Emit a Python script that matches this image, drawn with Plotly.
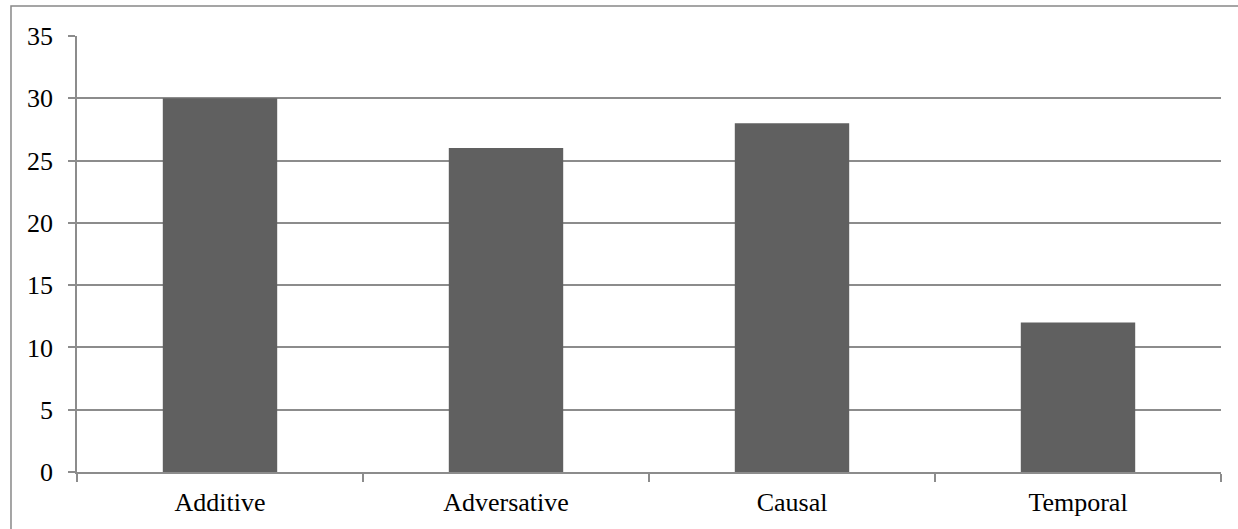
import plotly.graph_objects as go

categories = ["Additive", "Adversative", "Causal", "Temporal"]
values = [30, 26, 28, 12]
y_ticks = [0, 5, 10, 15, 20, 25, 30, 35]

GRID = "#8c8c8c"
FONT = dict(family="Liberation Serif, Times New Roman, serif", size=26, color="#000000")

fig = go.Figure(
    go.Bar(
        x=categories,
        y=values,
        marker=dict(color="#606060", line=dict(width=0)),
        hoverinfo="x+y",
    )
)

fig.update_layout(
    width=1238,
    height=529,
    margin=dict(l=77, r=17, t=36, b=57),
    paper_bgcolor="#ffffff",
    plot_bgcolor="#ffffff",
    bargap=0.6,
    showlegend=False,
    font=FONT,
    shapes=[
        # outer chart-area border
        dict(
            type="rect",
            xref="paper",
            yref="paper",
            x0=-0.0577,
            x1=1.1,
            y0=-0.2,
            y1=1.0688,
            line=dict(color="#888888", width=1.5),
            fillcolor="rgba(0,0,0,0)",
            layer="below",
        )
    ],
)

fig.update_xaxes(
    type="category",
    tickson="boundaries",
    ticks="outside",
    ticklen=8,
    tickwidth=1.5,
    tickcolor=GRID,
    showgrid=False,
    showline=True,
    linecolor=GRID,
    linewidth=1.5,
    tickfont=FONT,
    zeroline=False,
    ticklabelstandoff=6,
)

fig.update_yaxes(
    range=[0, 35],
    tickvals=y_ticks,
    ticks="outside",
    ticklen=7,
    tickwidth=1.5,
    tickcolor=GRID,
    showgrid=True,
    gridcolor=GRID,
    gridwidth=1.5,
    showline=True,
    linecolor=GRID,
    linewidth=1.5,
    zeroline=False,
    tickfont=FONT,
    ticklabelstandoff=10,
)

fig.write_html("out.html")
